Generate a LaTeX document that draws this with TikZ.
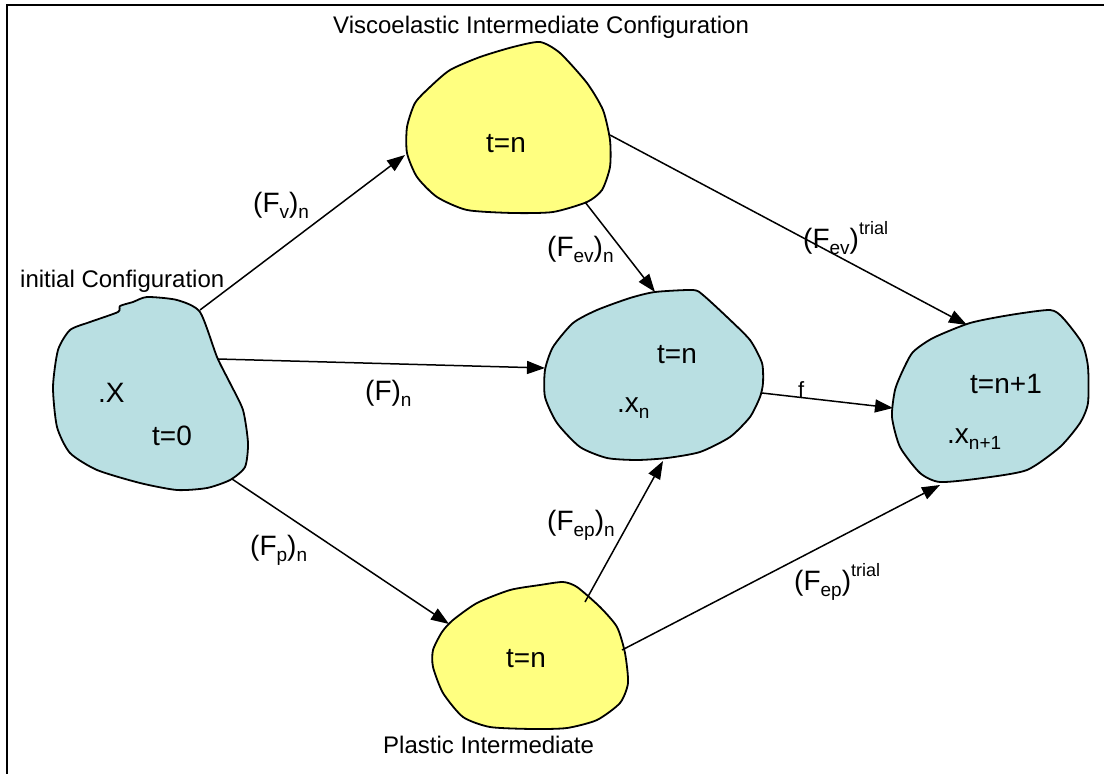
\documentclass[tikz,border=0pt]{standalone}
\usepackage{fontspec}
\setmainfont{Liberation Sans}
\usetikzlibrary{arrows.meta}
\definecolor{blobblue}{RGB}{185,223,226}
\definecolor{blobyellow}{RGB}{255,255,128}
\newcommand\lo[1]{\raisebox{-0.22em}{\fontsize{19}{20}\selectfont #1}}
\newcommand\hi[1]{\raisebox{0.5em}{\fontsize{18}{20}\selectfont #1}}
\begin{document}
\begin{tikzpicture}[x=1pt,y=-1pt,
  blob/.style={draw=black, line width=1.8pt, line join=round},
  conn/.style={line width=1.5pt, -{Triangle[length=18pt,width=13pt]}},
  lbl/.style={anchor=base west, inner sep=0pt, font=\fontsize{28}{32}\selectfont},
  ttl/.style={anchor=base west, inner sep=0pt, font=\fontsize{24}{28}\selectfont},
  small/.style={anchor=base west, inner sep=0pt, font=\fontsize{22}{24}\selectfont}]
\useasboundingbox (0,0) rectangle (1104,774);
\fill[white] (0,0) rectangle (1104,774);
% frame
\draw[line width=2.2pt] (7,780) -- (7,5) -- (1110,5);
% blobs
\draw[blob, fill=blobblue] plot[smooth cycle, tension=0.4] coordinates {(147,297) (177,300) (200,312) (217,357) (230,383) (243,410) (248,443) (245,467) (230,480) (207,488) (177,490) (140,483) (97,470) (70,453) (57,427) (53,387) (58,350) (70,330) (90,322) (118,312) (120,306) (133,302)};
\draw[blob, fill=blobyellow] plot[smooth cycle, tension=0.4] coordinates {(540,42) (560,53) (587,83) (603,110) (610,140) (610,167) (602,190) (587,202) (553,212) (513,213) (467,210) (437,197) (417,177) (407,153) (407,127) (415,103) (430,87) (450,70) (480,57) (513,47)};
\draw[blob, fill=blobblue] plot[smooth cycle, tension=0.4] coordinates {(693,290) (703,295) (727,317) (750,340) (762,363) (763,383) (760,397) (750,417) (730,437) (700,452) (667,458) (637,460) (607,458) (580,447) (557,423) (545,397) (545,370) (553,347) (573,323) (597,310) (630,298) (655,292)};
\draw[blob, fill=blobblue] plot[smooth cycle, tension=0.4] coordinates {(1010,315) (1050,310) (1063,318) (1082,343) (1088,367) (1088,403) (1080,423) (1060,447) (1027,470) (983,478) (940,482) (920,473) (900,447) (892,417) (895,390) (903,370) (913,352) (933,338) (970,323)};
\draw[blob, fill=blobyellow] plot[smooth cycle, tension=0.4] coordinates {(563,582) (577,587) (600,607) (617,627) (625,653) (628,683) (620,703) (597,720) (567,728) (533,729) (490,727) (463,717) (443,693) (433,667) (433,650) (442,632) (453,620) (477,603) (510,590) (540,585)};
% connector end points on blob outlines
\coordinate (initNE) at (200,310);
\coordinate (initE)  at (218,359);
\coordinate (initSE) at (232,479);
\coordinate (viscW)  at (405,155);
\coordinate (viscS)  at (585,202);
\coordinate (viscE)  at (610,135);
\coordinate (curN)   at (655,292);
\coordinate (curW)   at (545,368);
\coordinate (curS)   at (663,461);
\coordinate (curE)   at (762,393);
\coordinate (nextN)  at (967,325);
\coordinate (nextW)  at (893,408);
\coordinate (nextS)  at (940,485);
\coordinate (plasNW) at (449,624);
\coordinate (plasN)  at (585,602);
\coordinate (plasE)  at (622,650);
% connectors
\draw[conn] (initNE) -- (viscW);
\draw[conn] (initE) -- (curW);
\draw[conn] (initSE) -- (plasNW);
\draw[conn] (viscS) -- (curN);
\draw[conn] (viscE) -- (nextN);
\draw[conn] (curE) -- (nextW);
\draw[conn] (plasN) -- (curS);
\draw[conn] (plasE) -- (nextS);
% titles
\node[ttl] (tVisc) at (333,33) {Viscoelastic Intermediate Configuration};
\node[ttl] (tInit) at (20,287) {initial Configuration};
\node[ttl] (tPlas) at (383,753) {Plastic Intermediate};
% blob texts
\node[lbl] (xX) at (98,402) {.X};
\node[lbl] (t0) at (152,445) {t=0};
\node[lbl] (tnv) at (486,152) {t=n};
\node[lbl] (tnc) at (657,363) {t=n};
\node[lbl] (xn) at (617,412) {.x\lo{n}};
\node[lbl] (tn1) at (970,393) {t=n+1};
\node[lbl] (xn1) at (947,443) {.x\lo{n+1}};
\node[lbl] (tnp) at (506,667) {t=n};
% connector labels
\node[lbl] (lFv) at (253,212) {(F\lo{v})\lo{n}};
\node[lbl] (lF) at (365,400) {(F)\lo{n}};
\node[lbl] (lFp) at (250,555) {(F\lo{p})\lo{n}};
\node[lbl] (lFevn) at (547,256) {(F\lo{ev})\lo{n}};
\node[lbl] (lFevt) at (803,248) {(F\lo{ev})\hi{trial}};
\node[lbl] (lFepn) at (547,530) {(F\lo{ep})\lo{n}};
\node[lbl] (lFept) at (794,590) {(F\lo{ep})\hi{trial}};
\node[small] (lf) at (798,397) {f};
\end{tikzpicture}
\end{document}
